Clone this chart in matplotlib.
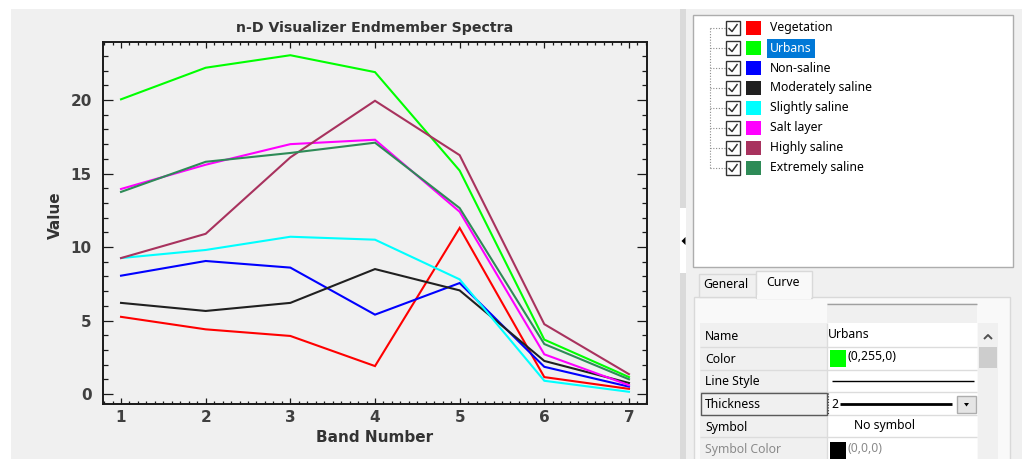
import matplotlib
matplotlib.use("Agg")
import matplotlib.pyplot as plt
from matplotlib.patches import Rectangle, Polygon
from matplotlib.ticker import MultipleLocator

# ---- spectra data ----
bands = [1, 2, 3, 4, 5, 6, 7]
vegetation = [5.25, 4.4, 3.95, 1.9, 11.3, 1.15, 0.35]
urbans = [20.05, 22.2, 23.05, 21.9, 15.2, 3.7, 1.15]
non_saline = [8.05, 9.05, 8.6, 5.4, 7.55, 1.85, 0.5]
moderately_saline = [6.2, 5.65, 6.2, 8.5, 7.05, 2.25, 0.75]
slightly_saline = [9.25, 9.8, 10.7, 10.5, 7.8, 0.9, 0.15]
salt_layer = [13.95, 15.6, 17.0, 17.3, 12.4, 2.7, 0.6]
highly_saline = [9.25, 10.9, 16.1, 19.95, 16.25, 4.75, 1.35]
extremely_saline = [13.75, 15.8, 16.4, 17.1, 12.65, 3.4, 1.0]

class_names = ["Vegetation", "Urbans", "Non-saline", "Moderately saline",
               "Slightly saline", "Salt layer", "Highly saline", "Extremely saline"]
class_colors = ["#ff0000", "#00ff00", "#0000ff", "#202020",
                "#00ffff", "#ff00ff", "#a8325e", "#2e8b57"]
series = [vegetation, urbans, non_saline, moderately_saline,
          slightly_saline, salt_layer, highly_saline, extremely_saline]

# property grid rows
prop_names = ["Name", "Color", "Line Style", "Thickness", "Symbol", "Symbol Color"]
selected_name = "Urbans"
selected_rgb = "(0,255,0)"
selected_thickness = "2"
symbol_text = "No symbol"
symbol_rgb = "(0,0,0)"

W, H = 1022, 459
fig = plt.figure(figsize=(W / 100, H / 100), dpi=100)
fig.patch.set_facecolor("white")

# background canvas in pixel coordinates
bg = fig.add_axes([0, 0, 1, 1], zorder=0)
bg.set_xlim(0, W)
bg.set_ylim(H, 0)
bg.axis("off")

GUI = "Noto Sans"
WIN = "#f0f0f0"


def rect(x0, y0, x1, y1, fc, ec="none", lw=0.0, z=1, ls="-"):
    bg.add_patch(Rectangle((x0, y0), x1 - x0, y1 - y0, facecolor=fc,
                           edgecolor=ec, linewidth=lw, zorder=z, linestyle=ls))


def line(xs, ys, color, lw=1.0, z=2, ls="-"):
    bg.plot(xs, ys, color=color, lw=lw, zorder=z, linestyle=ls,
            solid_capstyle="butt")


def label(x, y, s, color="black", size=8.8, ha="left", z=5):
    bg.text(x, y, s, color=color, fontsize=size, family=GUI, ha=ha,
            va="center", zorder=z)


# window background
rect(11, 9, W, H, WIN)

# splitter bar with collapse arrow
rect(680, 9, 686, H, "#dadada", z=2)
rect(680, 208, 686, 273, "white", z=3)
bg.add_patch(Polygon([(681.5, 241), (685.5, 237), (685.5, 245)], closed=True,
                     facecolor="black", edgecolor="none", zorder=4))

# ---- tree of classes ----
rect(693, 15, 1013, 267, "white", ec="#adadad", lw=1.0, z=2)
row0, step = 28, 20
line([709.5, 709.5], [row0, row0 + step * 7], "#8c8c8c", lw=0.8, ls=(0, (1, 1.5)), z=3)
for i, (nm, col) in enumerate(zip(class_names, class_colors)):
    yc = row0 + i * step
    line([709.5, 725], [yc, yc], "#8c8c8c", lw=0.8, ls=(0, (1, 1.5)), z=3)
    rect(725.5, yc - 7, 740, yc + 7, "white", ec="#333333", lw=1.0, z=3)
    line([728.5, 732, 737.5], [yc, yc + 3.5, yc - 4], "#333333", lw=1.1, z=4)
    rect(746, yc - 7, 761, yc + 7, col, z=3)
    if nm == selected_name:
        rect(767, yc - 9.5, 815, yc + 9.5, "#0078d7", z=3)
        label(770, yc, nm, color="white")
    else:
        label(770, yc, nm)

# ---- tabs ----
rect(694, 297, 1010, H + 2, "#f9f9f9", ec="#d9d9d9", lw=1.0, z=2)
rect(699, 274, 756, 297, "#f0f0f0", ec="#d9d9d9", lw=1.0, z=2)
rect(756, 271, 812, 298, "#f9f9f9", ec="#d9d9d9", lw=1.0, z=3)
rect(757, 295, 811, 299, "#f9f9f9", z=4)
label(726, 285, "General", ha="center")
label(783, 283, "Curve", ha="center")

# ---- property grid ----
lab_x0, val_x0, val_x1 = 700, 827, 977
rect(val_x0, 303, val_x1, 323, "#f0f0f0", z=3)
line([val_x0, val_x1], [303.5, 303.5], "#a0a0a0", lw=1.0, z=4)
row_edges = [323, 347, 370, 392, 415, 437, H + 2]
for i, nm in enumerate(prop_names):
    y0, y1 = row_edges[i], row_edges[i + 1]
    rect(lab_x0, y0, val_x0, y1, "#f0f0f0", z=3)
    rect(val_x0, y0, val_x1, y1, "white", z=3)
    line([lab_x0, val_x1], [y1 - 0.5, y1 - 0.5], "#dcdcdc", lw=1.0, z=4)
    line([val_x0, val_x0], [y0, y1], "#dcdcdc", lw=1.0, z=4)
    yc = (y0 + y1) / 2 + 1
    label(705, yc, nm, color="#8a8a8a" if nm == "Symbol Color" else "black")

# selected row frame and focus line
rect(701, 393, 827, 415, "none", ec="#5a5a5a", lw=1.0, z=5)
line([827.5, 827.5], [393, 415], "#404040", lw=0.8, ls=(0, (1, 1.5)), z=6)

# values
label(828, 334, selected_name)
rect(830, 350, 846, 367, "#00ff00", z=5)
label(847, 357, selected_rgb)
line([832, 974], [381, 381], "black", lw=1.0, z=5)
label(831, 404, selected_thickness)
line([840, 952], [404, 404], "black", lw=2.0, z=5)
rect(957, 396, 976, 413, "#e5e5e5", ec="#adadad", lw=1.0, z=5)
bg.add_patch(Polygon([(964, 403), (969, 403), (966.5, 406.5)], closed=True,
                     facecolor="black", edgecolor="none", zorder=6))
label(854, 426, symbol_text)
rect(830, 442, 846, H + 1, "black", z=5)
label(847, 449, symbol_rgb, color="#8a8a8a")

# scrollbar
rect(978, 323, 998, H + 1, "#f0f0f0", z=3)
rect(979, 347, 997, 368, "#cdcdcd", z=4)
line([984, 988, 992], [339, 335, 339], "#505050", lw=1.4, z=5)

# ---- spectra plot ----
L, R, T, B = 103, 647, 42, 404
ax = fig.add_axes([L / W, (H - B) / H, (R - L) / W, (B - T) / H], zorder=2)
ax.set_facecolor(WIN)
for vals, col in zip(series, class_colors):
    ax.plot(bands, vals, color=col, lw=1.5, solid_joinstyle="miter")

ax.set_xlim(0.787, 7.213)
ax.set_ylim(-0.68, 23.95)
ax.xaxis.set_major_locator(MultipleLocator(1))
ax.xaxis.set_minor_locator(MultipleLocator(0.1))
ax.yaxis.set_major_locator(MultipleLocator(5))
ax.yaxis.set_minor_locator(MultipleLocator(1))

for sp in ax.spines.values():
    sp.set_linewidth(1.4)
    sp.set_color("#1a1a1a")

tick_col = "#1a1a1a"
ax.tick_params(axis="x", which="both", direction="in", top=True, bottom=True,
               color=tick_col, width=0.9)
ax.tick_params(axis="x", which="major", length=4.5, pad=4,
               labelsize=11, labelcolor="#404040")
ax.tick_params(axis="x", which="minor", length=2.3)
ax.tick_params(axis="y", which="both", direction="in", left=True, right=True,
               color=tick_col, width=0.9)
ax.tick_params(axis="y", which="major", length=7.5, pad=8,
               labelsize=11, labelcolor="#404040")
ax.tick_params(axis="y", which="minor", length=3.8)
for t in ax.get_xticklabels() + ax.get_yticklabels():
    t.set_fontweight("bold")

ax.set_title("n-D Visualizer Endmember Spectra", fontsize=10.2, fontweight="bold",
             color="#333333", y=(B - 28) / (B - T), va="center", pad=0)
ax.set_xlabel("Band Number", fontsize=11, fontweight="bold", color="#333333", va="center")
ax.set_ylabel("Value", fontsize=11, fontweight="bold", color="#333333", va="center")
ax.xaxis.set_label_coords(0.5, -(438 - B) / (B - T))
ax.yaxis.set_label_coords((55 - L) / (R - L), (B - 215) / (B - T))

fig.savefig("out.png", dpi=100, facecolor=fig.get_facecolor())
